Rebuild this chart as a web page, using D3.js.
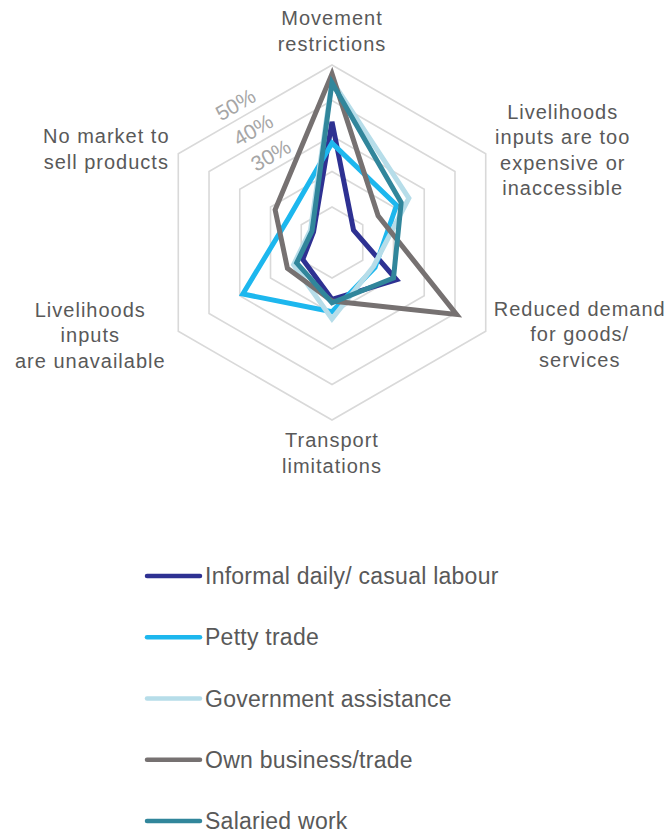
<!DOCTYPE html>
<html>
<head>
<meta charset="utf-8">
<script src="https://cdn.jsdelivr.net/npm/d3@7"></script>
<style>
  body { margin: 0; background: #fff; }
  text { font-family: "Liberation Sans", Arial, sans-serif; }
</style>
</head>
<body>
<div id="chart"></div>
<script>
// categories, clockwise from the top
var categories = [
  ["Movement", "restrictions"],
  ["Livelihoods", "inputs are too", "expensive or", "inaccessible"],
  ["Reduced demand", "for goods/", "services"],
  ["Transport", "limitations"],
  ["Livelihoods", "inputs", "are unavailable"],
  ["No market to", "sell products"]
];

var seriesNames = ["Informal daily/ casual labour", "Petty trade", "Government assistance", "Own business/trade", "Salaried work"];
var seriesColors = ["#2E3192", "#1DB7EE", "#B6DDE9", "#767171", "#31869B"];

// share of respondents (%)
var informalDaily  = [34, 7, 21, 16, 9.5, 6];
var pettyTrade     = [28, 21, 14, 19.5, 29, 14];
var govAssistance  = [45.5, 25, 13.5, 21.5, 12.5, 7];
var ownBusiness    = [47.5, 15, 40.5, 16.5, 14.5, 18.5];
var salariedWork   = [45, 22.5, 20, 17, 11.5, 6.5];

var ringValues = [10, 20, 30, 40, 50];
var ringLabels = ["", "", "30%", "40%", "50%"];

var seriesValues = [informalDaily, pettyTrade, govAssistance, ownBusiness, salariedWork];

// set the dimensions
var width = 672,
    height = 830,
    cx = 332,
    cy = 242.5,
    radius = 177.5;

var svg = d3.select("#chart")
  .append("svg")
    .attr("width", width)
    .attr("height", height);

var r = d3.scaleLinear().domain([0, 50]).range([0, radius]);
var angle = d3.scaleLinear().domain([0, categories.length]).range([0, 2 * Math.PI]);

var g = svg.append("g").attr("transform", `translate(${cx},${cy})`);

// hexagon gridlines
var ringLine = d3.lineRadial()
  .angle(function(d, i) { return angle(i); })
  .radius(function(d) { return r(d); })
  .curve(d3.curveLinearClosed);

g.selectAll(".ring")
  .data(ringValues)
  .enter()
  .append("path")
    .attr("d", function(v) { return ringLine(categories.map(function() { return v; })); })
    .attr("fill", "none")
    .attr("stroke", "#D9D9D9")
    .style("stroke-width", "1.6px");

// ring labels, rotated along the upper-left edge
var labelAngle = -35 * Math.PI / 180;
g.selectAll(".ringLabel")
  .data(ringValues)
  .enter()
  .append("text")
    .attr("transform", function(v) {
      var d = r(v) * Math.cos(Math.PI / 6) / Math.cos(5 * Math.PI / 180) + 14;
      return `translate(${d * Math.sin(labelAngle)},${-d * Math.cos(labelAngle)}) rotate(-30)`;
    })
    .attr("text-anchor", "middle")
    .attr("dy", "0.35em")
    .attr("fill", "#A6A6A6")
    .style("font-size", "21px")
    .text(function(v, i) { return ringLabels[i]; });

// series lines
var seriesLine = d3.lineRadial()
  .angle(function(d, i) { return angle(i); })
  .radius(function(d) { return r(d); })
  .curve(d3.curveLinearClosed);

g.selectAll(".series")
  .data(seriesValues)
  .enter()
  .append("path")
    .attr("d", function(d) { return seriesLine(d); })
    .attr("fill", "none")
    .attr("stroke", function(d, i) { return seriesColors[i]; })
    .attr("stroke-linejoin", "miter")
    .style("stroke-width", "5px");

// category labels: block centre offset from each outer vertex
var labelOffsets = [[0, -34], [77, -4], [94, 3], [0, 33], [-88, 4], [-72, -5]];
var lineHeight = 25.5;

categories.forEach(function(lines, i) {
  var a = angle(i);
  var vx = radius * Math.sin(a) + labelOffsets[i][0];
  var vy = -radius * Math.cos(a) + labelOffsets[i][1];
  var t = g.append("text")
    .attr("text-anchor", "middle")
    .attr("fill", "#595959")
    .style("font-size", "20px")
    .style("letter-spacing", "1px");
  lines.forEach(function(line, j) {
    t.append("tspan")
      .attr("x", vx)
      .attr("y", vy + (j - (lines.length - 1) / 2) * lineHeight)
      .attr("dy", "0.35em")
      .text(line);
  });
});

// legend
var legend = svg.append("g");
var legendY = d3.scalePoint().domain(seriesNames).range([576, 821]);

legend.selectAll(".legendLine")
  .data(seriesNames)
  .enter()
  .append("line")
    .attr("x1", 147)
    .attr("x2", 200)
    .attr("y1", function(d) { return legendY(d); })
    .attr("y2", function(d) { return legendY(d); })
    .attr("stroke", function(d, i) { return seriesColors[i]; })
    .attr("stroke-linecap", "round")
    .style("stroke-width", "4.5px");

legend.selectAll(".legendText")
  .data(seriesNames)
  .enter()
  .append("text")
    .attr("x", 205)
    .attr("y", function(d) { return legendY(d); })
    .attr("dy", "0.35em")
    .attr("fill", "#595959")
    .style("font-size", "23px")
    .style("letter-spacing", "0.25px")
    .text(function(d) { return d; });
</script>
</body>
</html>
